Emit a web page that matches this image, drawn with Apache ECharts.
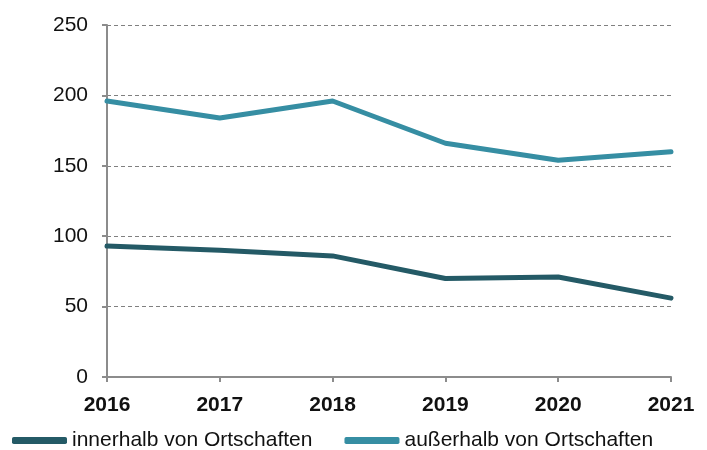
<!DOCTYPE html>
<html>
<head>
<meta charset="utf-8">
<script src="https://cdn.jsdelivr.net/npm/echarts@6/dist/echarts.min.js"></script>
<style>html,body{margin:0;padding:0;background:#fff;}#c{width:707px;height:450px;}</style>
</head>
<body>
<div id="c"></div>
<script>
const years = ['2016','2017','2018','2019','2020','2021'];
const innerhalb = [93, 90, 86, 70, 71, 56];
const ausserhalb = [196, 184, 196, 166, 154, 160];
const seriesNames = ['innerhalb von Ortschaften', 'außerhalb von Ortschaften'];
const yTicks = { min: 0, max: 250, interval: 50 };

const chart = echarts.init(document.getElementById('c'), null, {renderer: 'canvas'});
const font = 'Liberation Sans, Arial, sans-serif';
chart.setOption({
  animation: false,
  grid: { left: 107, right: 36, top: 25, bottom: 73, containLabel: false },
  legend: {
    left: 12, top: 430, padding: 0, itemGap: 32,
    icon: 'roundRect', itemWidth: 55, itemHeight: 7,
    textStyle: { fontFamily: font, fontSize: 21, color: '#111' },
    data: seriesNames
  },
  xAxis: {
    type: 'category', data: years, boundaryGap: false,
    axisLine: { lineStyle: { color: '#8c8c8c', width: 2 } },
    axisTick: { show: true, length: 5, lineStyle: { color: '#8c8c8c', width: 2 } },
    axisLabel: { fontFamily: font, fontSize: 21, fontWeight: 'bold', color: '#111', margin: 18 },
    splitLine: { show: false }
  },
  yAxis: {
    type: 'value', min: yTicks.min, max: yTicks.max, interval: yTicks.interval,
    axisLine: { show: true, lineStyle: { color: '#8c8c8c', width: 2 } },
    axisTick: { show: true, length: 5, lineStyle: { color: '#8c8c8c', width: 2 } },
    axisLabel: { fontFamily: font, fontSize: 21, color: '#111', margin: 19 },
    splitLine: { show: true, lineStyle: { color: '#808080', type: [4, 3], width: 1 } }
  },
  series: [
    { name: seriesNames[0], type: 'line', data: innerhalb, showSymbol: false,
      lineStyle: { color: '#245a66', width: 5, cap: 'round', join: 'round' },
      itemStyle: { color: '#245a66' } },
    { name: seriesNames[1], type: 'line', data: ausserhalb, showSymbol: false,
      lineStyle: { color: '#368ea3', width: 5, cap: 'round', join: 'round' },
      itemStyle: { color: '#368ea3' } }
  ]
});
</script>
</body>
</html>
